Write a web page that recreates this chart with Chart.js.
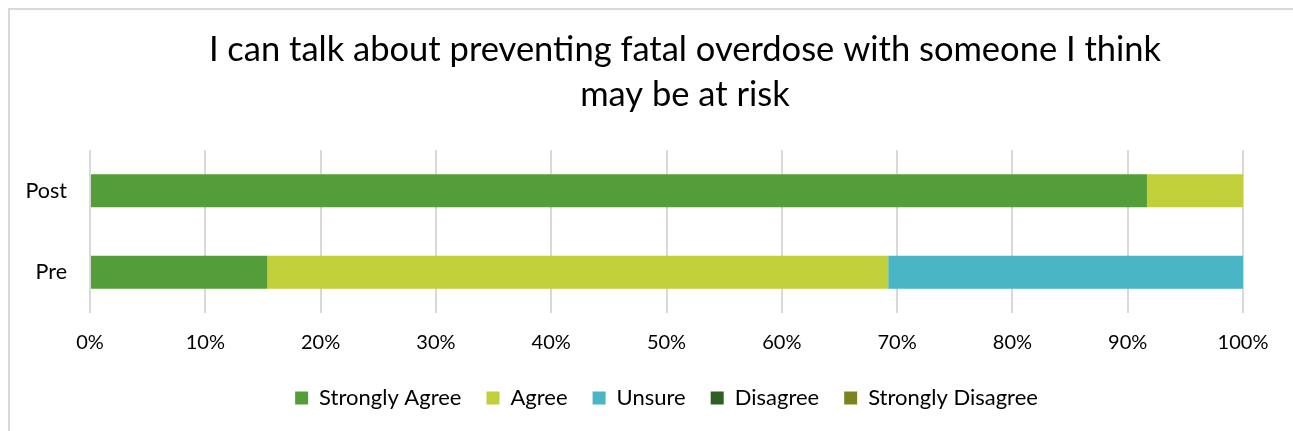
<!DOCTYPE html>
<html>
<head>
<meta charset="utf-8">
<script src="https://cdn.jsdelivr.net/npm/chart.js@4/dist/chart.umd.min.js"></script>
<style>
  html, body { margin: 0; padding: 0; background: #fff; overflow: hidden; }
  #frame {
    position: absolute; left: 8px; top: 8px; width: 1400px; height: 500px;
    border-left: 2px solid #d9d9d9; border-top: 2px solid #d9d9d9;
  }
  /* the chart frame runs past the right edge of the window */
  #wrap { position: absolute; left: 0; top: 0; width: 1370px; height: 431px; }
</style>
</head>
<body>
<div id="frame"></div>
<div id="wrap"><canvas id="chart"></canvas></div>
<script>
const categories = ['Post', 'Pre'];
const seriesNames = ['Strongly Agree', 'Agree', 'Unsure', 'Disagree', 'Strongly Disagree'];
const seriesColors = ['#549e39', '#c0cf3a', '#4ab5c4', '#2f5f23', '#7a8521'];
// percentages per category, in the order of `categories`
const stronglyAgree = [91.67, 15.38];
const agree = [8.33, 53.85];
const unsure = [0, 30.77];
const disagree = [0, 0];
const stronglyDisagree = [0, 0];
const xTicks = [0, 10, 20, 30, 40, 50, 60, 70, 80, 90, 100];

const FONT = 'Lato, "Open Sans", sans-serif';
const values = [stronglyAgree, agree, unsure, disagree, stronglyDisagree];

// legend keeps wide item spacing but a fixed, shorter box height
const legendHeight = {
  id: 'legendHeight',
  beforeLayout(chart) {
    const legend = chart.legend;
    if (!legend || legend._fixedHeight) return;
    const fit = legend.fit;
    legend.fit = function () {
      fit.call(this);
      this.height = 69;
    };
    legend._fixedHeight = true;
  }
};

new Chart(document.getElementById('chart'), {
  type: 'bar',
  data: {
    labels: categories,
    datasets: seriesNames.map((name, i) => ({
      label: name,
      data: values[i],
      backgroundColor: seriesColors[i],
      borderWidth: 0,
      yAxisID: 'y',
      categoryPercentage: 1,
      barPercentage: 0.405
    }))
  },
  plugins: [legendHeight],
  options: {
    indexAxis: 'y',
    responsive: true,
    maintainAspectRatio: false,
    animation: false,
    layout: { padding: { left: 0, right: 0, top: 27, bottom: 0 } },
    plugins: {
      title: {
        display: true,
        text: ['I can talk about preventing fatal overdose with someone I think', 'may be at risk'],
        color: '#000',
        font: { family: FONT, size: 34.5, weight: 'normal', lineHeight: 45 / 34.5 },
        padding: { top: 0, bottom: 33 }
      },
      legend: {
        position: 'bottom',
        fullSize: false,
        labels: {
          color: '#000',
          font: { family: FONT, size: 22 },
          boxWidth: 13,
          boxHeight: 13,
          padding: 25
        }
      },
      tooltip: { enabled: false }
    },
    scales: {
      x: {
        stacked: true,
        min: 0,
        max: 100,
        afterBuildTicks: axis => { axis.ticks = xTicks.map(v => ({ value: v })); },
        afterFit: axis => { axis.height = 49; },
        ticks: {
          color: '#000',
          font: { family: FONT, size: 20 },
          padding: 18,
          callback: v => v + '%'
        },
        grid: { color: '#d9d9d9', lineWidth: 2, drawTicks: false },
        border: { display: false }
      },
      y: {
        stacked: true,
        afterFit: axis => { axis.width = 90; },
        ticks: {
          color: '#000',
          font: { family: FONT, size: 21.5 },
          padding: 23
        },
        grid: { display: false, drawTicks: false },
        border: { display: false }
      },
      // empty right-hand axis: keeps the plot narrower than the frame
      yRight: {
        axis: 'y',
        position: 'right',
        afterFit: axis => { axis.width = 127; },
        ticks: { display: false },
        grid: { display: false, drawTicks: false },
        border: { display: false }
      }
    }
  }
});
</script>
</body>
</html>
